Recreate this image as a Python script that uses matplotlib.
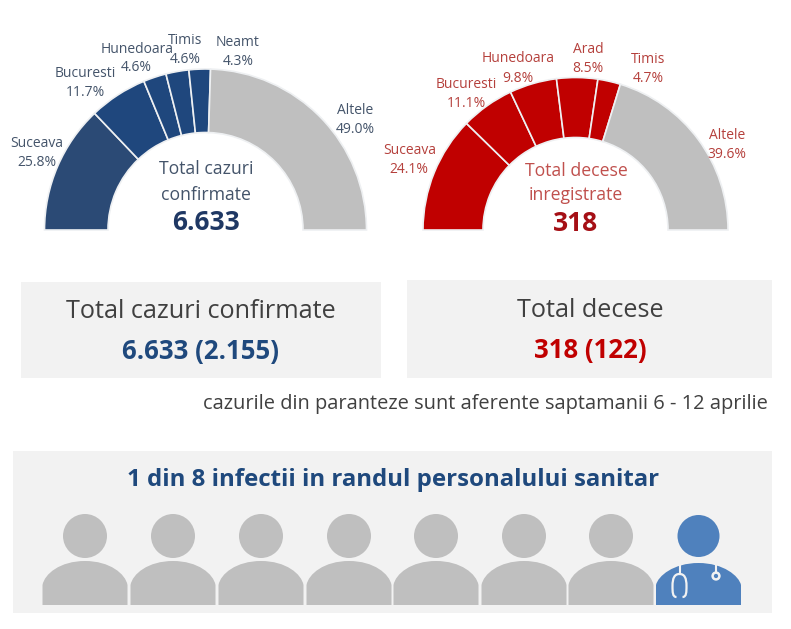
import matplotlib
matplotlib.use("Agg")
import matplotlib.pyplot as plt
from matplotlib.patches import Circle, PathPatch, Rectangle
from matplotlib.path import Path

plt.rcParams['font.family'] = ['Open Sans', 'DejaVu Sans']

# data
cases_names = ["Suceava", "Bucuresti", "Hunedoara", "Timis", "Neamt", "Altele"]
cases_pct = [25.8, 11.7, 4.6, 4.6, 4.3, 49.0]
deaths_names = ["Suceava", "Bucuresti", "Hunedoara", "Arad", "Timis", "Altele"]
deaths_pct = [24.1, 11.1, 9.8, 8.5, 4.7, 39.6]
total_cases = "6.633"
total_deaths = "318"
week_cases = "2.155"
week_deaths = "122"
n_people = 8
n_medical = 1

# label centres in image pixels (name line, value line)
cases_label_pos = [(37, 142, 37, 161), (85, 72, 85, 91), (137, 48, 136, 66),
                   (185, 39, 185, 58), (238, 41, 238, 60), (355, 109, 355, 128)]
deaths_label_pos = [(410, 149, 409, 168), (466, 83, 466, 102), (518, 57, 518, 77),
                    (588, 48, 588, 67), (648, 58, 648, 77), (727, 134, 727, 153)]

W, H = 791, 629
fig = plt.figure(figsize=(W / 100, H / 100), dpi=100)
ax = fig.add_axes([0, 0, 1, 1])


def Y(py):
    return H - py


def txt(x, y, s, size, color, weight="normal"):
    ax.text(x, Y(y + 1.5), s, fontsize=size, color=color, fontweight=weight,
            ha="center", va="center")


def gauge(values, colors, cx, cy, r_out, r_in):
    # bottom half of the pie is left blank
    vals = list(values) + [sum(values)]
    wedges, _ = ax.pie(vals, colors=colors + ["white"], center=(cx, Y(cy)), radius=r_out,
                       startangle=180, counterclock=False, frame=True,
                       wedgeprops=dict(width=r_out - r_in, edgecolor="#eef0f2", linewidth=1.2))
    wedges[-1].set_visible(False)


cases_colors = ["#2b4a75", "#1f477d", "#1f477d", "#1f477d", "#1f477d", "#bfbfbf"]
deaths_colors = ["#c00000"] * 5 + ["#bfbfbf"]
gauge(cases_pct, cases_colors, 205.5, 230, 161, 97.5)
gauge(deaths_pct, deaths_colors, 575.5, 230, 152.5, 92.5)

blue_lab = "#44546a"
red_lab = "#b5403c"
for name, pct, p in zip(cases_names, cases_pct, cases_label_pos):
    txt(p[0], p[1], name, 10, blue_lab)
    txt(p[2], p[3], "%.1f%%" % pct, 10, blue_lab)
for name, pct, p in zip(deaths_names, deaths_pct, deaths_label_pos):
    txt(p[0], p[1], name, 10, red_lab)
    txt(p[2], p[3], "%.1f%%" % pct, 10, red_lab)

txt(206, 168, "Total cazuri", 12.7, blue_lab)
txt(206, 193, "confirmate", 12.7, blue_lab)
txt(206, 221, total_cases, 19, "#1f3864", "bold")
txt(576, 169, "Total decese", 12.7, "#c0504d")
txt(576, 194, "inregistrate", 12.7, "#c0504d")
txt(576, 222, total_deaths, 19, "#a50f15", "bold")

# panels
for x0, y0, x1, y1 in [(21, 282, 381, 378), (407, 280, 772, 378), (13, 451, 772, 613)]:
    ax.add_patch(Rectangle((x0, Y(y1)), x1 - x0, y1 - y0, color="#f2f2f2", lw=0, zorder=0))

txt(201, 310, "Total cazuri confirmate", 18.2, "#404040")
txt(201, 350, "%s (%s)" % (total_cases, week_cases), 18.5, "#1f497d", "bold")
txt(590, 309, "Total decese", 18.2, "#404040")
txt(590, 349, "%s (%s)" % (total_deaths, week_deaths), 18.5, "#c00000", "bold")
txt(485, 402.5, "cazurile din paranteze sunt aferente saptamanii 6 - 12 aprilie", 14.4, "#404040")
txt(393, 478.5, "1 din 8 infectii in randul personalului sanitar", 17.3, "#1f497d", "bold")


def person(cx, color, medical=False):
    head_r = 21 if medical else 22
    ax.add_patch(Circle((cx, Y(536)), head_r, color=color, lw=0, zorder=3))
    hw = 42.5
    top = 563 if medical else 561
    side, bottom = 585, 605
    verts = [(cx - hw, Y(bottom)), (cx - hw, Y(side)),
             (cx - hw + 2, Y(top + 13)), (cx - 25, Y(top)), (cx, Y(top)),
             (cx + 25, Y(top)), (cx + hw - 2, Y(top + 13)), (cx + hw, Y(side)),
             (cx + hw, Y(bottom)), (cx - hw, Y(bottom))]
    codes = [Path.MOVETO, Path.LINETO,
             Path.CURVE4, Path.CURVE4, Path.CURVE4,
             Path.CURVE4, Path.CURVE4, Path.CURVE4,
             Path.LINETO, Path.CLOSEPOLY]
    ax.add_patch(PathPatch(Path(verts, codes), facecolor=color, lw=0, zorder=3))
    if medical:
        # stethoscope
        s = "#f2f2f2"
        ax.plot([cx - 19, cx - 19], [Y(564), Y(574)], color=s, lw=1.5, zorder=4)
        tube = [(cx - 22, Y(597)), (cx - 26, Y(597)), (cx - 26, Y(592)), (cx - 26, Y(586)),
                (cx - 26, Y(578)), (cx - 24, Y(574)), (cx - 19, Y(574)),
                (cx - 14, Y(574)), (cx - 12, Y(578)), (cx - 12, Y(586)),
                (cx - 12, Y(592)), (cx - 12, Y(597)), (cx - 16, Y(597))]
        ax.add_patch(PathPatch(Path(tube, [Path.MOVETO] + [Path.CURVE4] * 12),
                               facecolor="none", edgecolor=s, lw=1.6, zorder=4))
        ax.plot([cx + 17.5, cx + 17.5], [Y(564), Y(572)], color=s, lw=1.5, zorder=4)
        ax.add_patch(Circle((cx + 17.5, Y(576)), 3.4, facecolor="none", edgecolor=s, lw=1.8, zorder=4))


xs = [85, 173, 261, 349, 436, 524, 611, 698.5]
for i in range(n_people):
    if i >= n_people - n_medical:
        person(xs[i], "#4f81bd", True)
    else:
        person(xs[i], "#bfbfbf")

ax.set_xlim(0, W)
ax.set_ylim(0, H)
ax.set_aspect("auto")
ax.axis("off")
fig.savefig("out.png", dpi=100)
